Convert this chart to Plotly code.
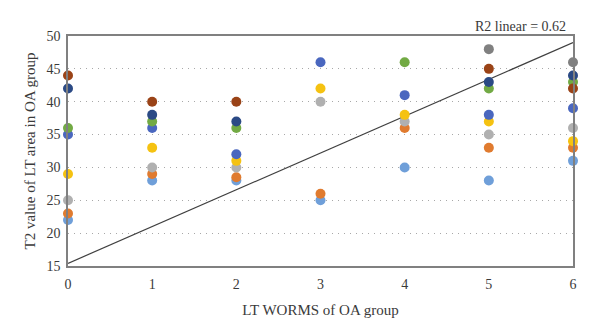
import plotly.graph_objects as go

x_vals = [0, 1, 2, 3, 4, 5, 6]

series = {
    "S1": ([22, 28, 28, 25, 30, 28, 31], "#6f9fd9"),
    "S2": ([23, 29, 28.5, 26, 36, 33, 33], "#e07b2f"),
    "S3": ([25, 30, 30, 40, 37, 35, 36], "#b0b0b0"),
    "S4": ([29, 33, 31, 42, 38, 37, 34], "#f5c211"),
    "S5": ([35, 36, 32, 46, 41, 38, 39], "#4a67bf"),
    "S6": ([36, 37, 36, None, 46, 42, 43], "#72aa44"),
    "S7": ([42, 38, 37, None, None, 43, 44], "#2b4a85"),
    "S8": ([44, 40, 40, None, None, 45, 42], "#9a4317"),
    "S9": ([None, None, None, None, None, 48, 46], "#808080"),
}

trend_x = [0, 6]
trend_y = [15.4, 49.0]

y_ticks = [15, 20, 25, 30, 35, 40, 45, 50]
x_ticks = [0, 1, 2, 3, 4, 5, 6]

fig = go.Figure()

fig.add_trace(go.Scatter(x=trend_x, y=trend_y, mode="lines",
                         line=dict(color="#404040", width=1.2),
                         showlegend=False, hoverinfo="skip"))

for name, (vals, color) in series.items():
    fig.add_trace(go.Scatter(x=x_vals, y=vals, mode="markers", name=name,
                             marker=dict(color=color, size=10, line=dict(width=0)),
                             showlegend=False, cliponaxis=False))

font_family = "Liberation Serif"
txt = "#3a3a3a"

fig.update_layout(
    width=600, height=336,
    margin=dict(l=68, r=27, t=36, b=70),
    paper_bgcolor="white", plot_bgcolor="white",
    font=dict(family=font_family, color=txt, size=14),
    showlegend=False,
    xaxis=dict(range=[0, 6], tickvals=x_ticks, ticks="outside", ticklen=4,
               tickcolor="rgba(0,0,0,0)", showgrid=False,
               zeroline=False, showline=True, linecolor="#808080", linewidth=1.5,
               mirror=True, tickfont=dict(size=14, family=font_family, color=txt),
               title=dict(text="LT WORMS of OA group", standoff=14,
                          font=dict(size=15, family=font_family, color=txt))),
    yaxis=dict(range=[15, 50], tickvals=y_ticks, ticks="outside", ticklen=3,
               tickcolor="rgba(0,0,0,0)", showgrid=True,
               gridcolor="#a8a8a8", griddash="1px,5px", gridwidth=1.3,
               zeroline=False, showline=True, linecolor="#808080", linewidth=1.5,
               mirror=True, tickfont=dict(size=14, family=font_family, color=txt),
               title=dict(text="T2 value of LT area in OA group", standoff=7,
                          font=dict(size=15, family=font_family, color=txt))),
    annotations=[dict(text="R2 linear = 0.62", xref="paper", yref="paper",
                      x=0.99, y=1.0, xanchor="right", yanchor="bottom",
                      showarrow=False, yshift=0,
                      font=dict(size=14, family=font_family, color=txt))],
)

fig.write_html("out.html")
